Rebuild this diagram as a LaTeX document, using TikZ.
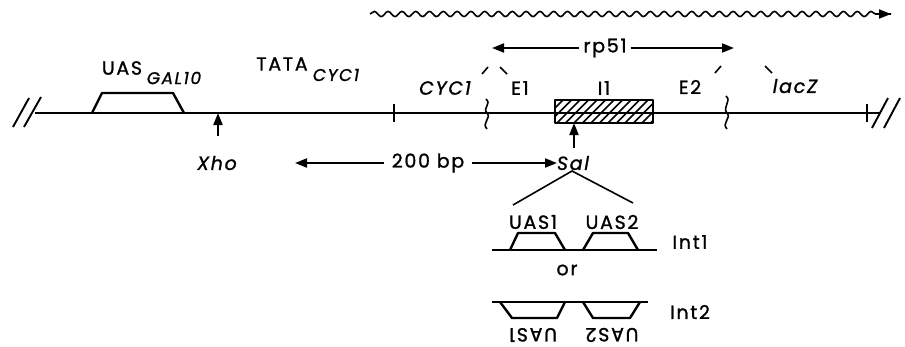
\documentclass[tikz,border=0pt]{standalone}
\usepackage{fontspec}
\setmainfont{Poppins}[LetterSpace=9,FakeBold=1.2]
\usetikzlibrary{decorations.pathmorphing,arrows.meta}
\begin{document}
\begin{tikzpicture}[x=1pt,y=-1pt,
  dna/.style={line width=1.9pt},
  box/.style={line width=2.4pt, line join=round},
  lbl/.style={inner sep=0pt, font=\fontsize{19}{19}\selectfont},
  ilbl/.style={inner sep=0pt, font=\fontsize{19}{19}\selectfont\itshape},
  sub/.style={inner sep=0pt, font=\fontsize{17}{17}\selectfont\itshape},
  tip/.style={-{Triangle[length=12pt,width=9pt]}, line width=1.9pt},
  brk/.style={line width=1.6pt}]
\useasboundingbox (0,0) rectangle (905,346);
% transcription wavy arrow
\coordinate (w1) at (370,14);
\coordinate (w2) at (891,14);
\draw[line width=1.6pt, decorate, decoration={snake, segment length=13.8pt, amplitude=2.6pt, post length=10pt}] (w1) -- (w2);
\draw[tip] (884,14) -- (w2);
% main line
\coordinate (L) at (35,113);
\coordinate (R) at (880,113);
\draw[dna] (L) -- (R);
\draw[dna] (13,127) -- (29,98);
\draw[dna] (24,127) -- (41,97);
\draw[dna] (872,128) -- (888,98);
\draw[dna] (884,128) -- (900,98);
\draw[dna] (394,104) -- (394,122);
\draw[dna] (867,104) -- (867,122);
% UAS GAL10
\draw[box] (92,113) -- (102,93) -- (173,93) -- (184,113);
\node[lbl] (uas) at (122,68) {UAS};
\node[sub] (gal) at (174,78) {GAL10};
% TATA CYC1
\node[lbl] (tata) at (282,64) {TATA};
\node[sub] (cycsub) at (336,75) {CYC1};
% Xho
\coordinate (xhoP) at (218,113);
\node[ilbl] (xho) at (217,163) {Xho};
\draw[tip] (218,136) -- (xhoP);
% breaks
\draw[brk] (486,99) .. controls (492,104) and (482,108) .. (487,113) .. controls (492,118) and (481,123) .. (487,129);
\draw[brk] (726,96) .. controls (732,101) and (722,107) .. (727,113) .. controls (732,118) and (721,123) .. (727,129);
% labels above line
\node[ilbl] (cyc) at (445,88) {CYC1};
\node[lbl] (e1) at (520,88) {E1};
\node[lbl] (i1) at (604,88) {I1};
\node[lbl] (e2) at (690,87) {E2};
\node[ilbl] (lacz) at (795,86) {lacZ};
\draw[brk] (482,74) -- (488,67);
\draw[brk] (500,67) -- (507,74);
\draw[brk] (715,73) -- (721,66);
\draw[brk] (765,66) -- (772,73);
% rp51
\node[lbl, inner xsep=4pt] (rp) at (605,48) {rp51};
\coordinate (rpL) at (492,48);
\coordinate (rpR) at (734,48);
\draw[tip] (rp.west) -- (rpL);
\draw[tip] (rp.east) -- (rpR);
% hatched intron
\begin{scope}
  \clip (555,100) rectangle (653,123);
  \foreach \i in {0,...,14} {
    \draw[line width=1.6pt] (540+\i*8.5,123) -- (563+\i*8.5,100);
  }
\end{scope}
\draw[box] (555,100) rectangle (653,123);
% Sal
\node[ilbl] (sal) at (573,163) {Sal};
\coordinate (salP) at (574,123);
\draw[tip] (574,148) -- (salP);
% 200 bp
\node[lbl, inner xsep=8pt] (bp) at (428,163) {200 bp};
\coordinate (bpL) at (295,163);
\coordinate (bpR) at (557,163);
\draw[tip] (bp.west) -- (bpL);
\draw[tip] (bp.east) -- (bpR);
% expansion
\coordinate (apex) at (572,171);
\coordinate (exL) at (513,205);
\coordinate (exR) at (633,203);
\draw[line width=1.6pt] (exL) -- (apex) -- (exR);
\node[lbl] (u1) at (533,222) {UAS1};
\node[lbl] (u2) at (612,222) {UAS2};
% Int1
\draw[dna] (492,250) -- (657,250);
\draw[box] (510,250) -- (518,233) -- (555,233) -- (565,250);
\draw[box] (583,250) -- (593,233) -- (628,233) -- (638,250);
\node[lbl] (int1) at (690,242) {Int1};
\node[lbl] (or) at (567,270) {or};
% Int2
\draw[dna] (492,302) -- (648,302);
\draw[box] (500,302) -- (512,318) -- (557,318) -- (565,302);
\draw[box] (583,302) -- (593,318) -- (630,318) -- (640,302);
\node[lbl] (int2) at (690,312) {Int2};
\node[lbl, rotate=180] (d1) at (533,335) {UAS1};
\node[lbl, rotate=180] (d2) at (612,335) {UAS2};
\end{tikzpicture}
\end{document}
